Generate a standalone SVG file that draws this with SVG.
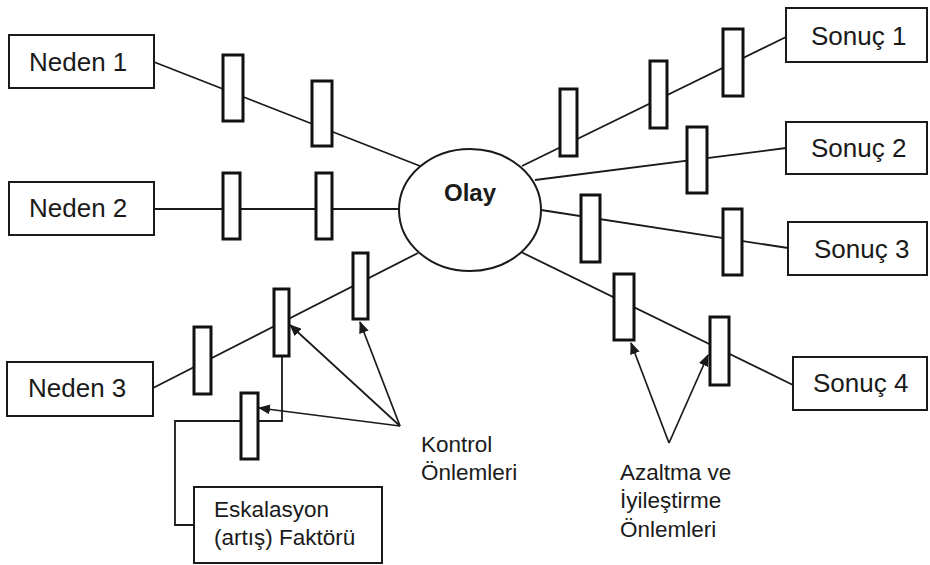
<svg xmlns="http://www.w3.org/2000/svg" width="930" height="565" viewBox="0 0 930 565">
<style>
.box{fill:#fff;stroke:#1a1a1a;stroke-width:2}
.bar{fill:#fff;stroke:#111;stroke-width:3}
.ln{fill:none;stroke:#1a1a1a;stroke-width:1.8}
.ar{fill:none;stroke:#1a1a1a;stroke-width:1.7;marker-end:url(#ah)}
.t{font-family:"Liberation Sans",Arial,sans-serif;fill:#1a1a1a}
.big{font-size:26px}
.sm{font-size:22.5px}
</style>
<defs>
<marker id="ah" markerWidth="12" markerHeight="10" refX="11" refY="5" orient="auto" markerUnits="userSpaceOnUse">
<path d="M0,0 L12,5 L0,10 Z" fill="#1a1a1a"/>
</marker>
</defs>
<rect width="930" height="565" fill="#fff"/>
<g id="connectors">
<line class="ln" x1="154" y1="62" x2="420" y2="166"/>
<line class="ln" x1="154" y1="209" x2="399" y2="209"/>
<line class="ln" x1="153" y1="388" x2="418" y2="253"/>
<line class="ln" x1="522" y1="166" x2="786" y2="37"/>
<line class="ln" x1="535" y1="180" x2="786" y2="148"/>
<line class="ln" x1="541" y1="210" x2="788" y2="248"/>
<line class="ln" x1="521" y1="252" x2="793" y2="385"/>
<polyline class="ln" points="194,525 175,525 175,421 282,421 282,356"/>
<line class="ar" x1="400" y1="426" x2="290" y2="325"/>
<line class="ar" x1="400" y1="426" x2="360" y2="322"/>
<line class="ar" x1="400" y1="426" x2="259" y2="408"/>
<line class="ar" x1="669" y1="443" x2="631" y2="343"/>
<line class="ar" x1="669" y1="443" x2="708" y2="355"/>
</g>
<g id="barriers">
<rect class="bar" x="223" y="55" width="20" height="66"/>
<rect class="bar" x="312" y="81" width="20" height="65"/>
<rect class="bar" x="223" y="173" width="17" height="66"/>
<rect class="bar" x="316" y="173" width="16" height="66"/>
<rect class="bar" x="194" y="327" width="17" height="67"/>
<rect class="bar" x="274" y="289" width="15" height="67"/>
<rect class="bar" x="353" y="253" width="15" height="66"/>
<rect class="bar" x="241" y="393" width="17" height="66"/>
<rect class="bar" x="560" y="89" width="17" height="67"/>
<rect class="bar" x="650" y="61" width="17" height="67"/>
<rect class="bar" x="723" y="29" width="20" height="67"/>
<rect class="bar" x="687" y="127" width="20" height="66"/>
<rect class="bar" x="581" y="195" width="19" height="67"/>
<rect class="bar" x="723" y="209" width="19" height="66"/>
<rect class="bar" x="614" y="274" width="20" height="66"/>
<rect class="bar" x="710" y="317" width="19" height="68"/>
</g>
<g id="olay">
<ellipse cx="470" cy="210" rx="71" ry="61" fill="#fff" stroke="#1a1a1a" stroke-width="2"/>
<text class="t" x="470" y="201" font-size="24" font-weight="bold" text-anchor="middle">Olay</text>
</g>
<g id="neden1">
<rect class="box" x="9" y="35" width="145" height="53"/>
<text class="t big" x="29" y="71">Neden 1</text>
</g>
<g id="neden2">
<rect class="box" x="9" y="182" width="145" height="53"/>
<text class="t big" x="29" y="217">Neden 2</text>
</g>
<g id="neden3">
<rect class="box" x="7" y="362" width="146" height="54"/>
<text class="t big" x="28" y="397">Neden 3</text>
</g>
<g id="sonuc1">
<rect class="box" x="786" y="8" width="141" height="54"/>
<text class="t big" x="811" y="45">Sonuç 1</text>
</g>
<g id="sonuc2">
<rect class="box" x="786" y="122" width="141" height="52"/>
<text class="t big" x="811" y="157">Sonuç 2</text>
</g>
<g id="sonuc3">
<rect class="box" x="788" y="222" width="139" height="53"/>
<text class="t big" x="814" y="258">Sonuç 3</text>
</g>
<g id="sonuc4">
<rect class="box" x="793" y="357" width="134" height="53"/>
<text class="t big" x="813" y="392">Sonuç 4</text>
</g>
<g id="eskalasyon">
<rect class="box" x="194" y="487" width="188" height="76"/>
<text class="t sm" x="214" y="517">Eskalasyon</text>
<text class="t sm" x="214" y="545">(artış) Faktörü</text>
</g>
<g id="kontrol">
<text class="t sm" x="421" y="452">Kontrol</text>
<text class="t sm" x="421" y="480">Önlemleri</text>
</g>
<g id="azaltma">
<text class="t sm" x="620" y="480">Azaltma ve</text>
<text class="t sm" x="620" y="508">İyileştirme</text>
<text class="t sm" x="620" y="537">Önlemleri</text>
</g>
</svg>
